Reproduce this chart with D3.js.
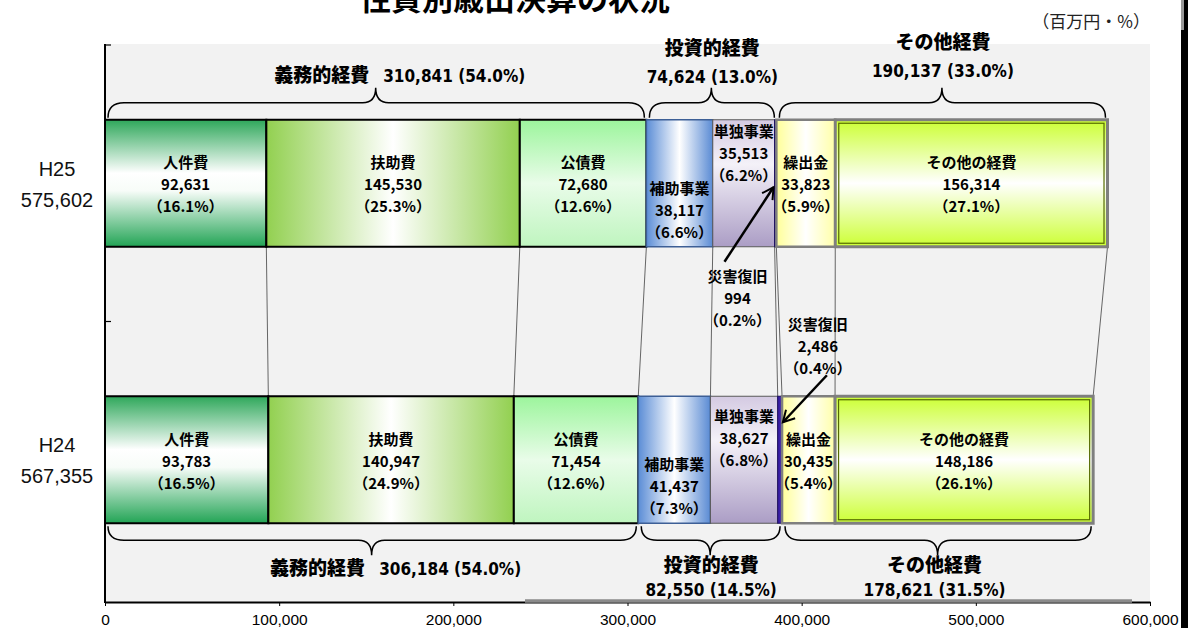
<!DOCTYPE html>
<html><head><meta charset="utf-8">
<script src="https://cdn.jsdelivr.net/npm/d3@7"></script>
<style>body{margin:0;background:#fff;} svg{display:block;}</style>
</head><body><svg id="c" width="1188" height="628"></svg>
<script>
// ---------- data ----------
const categories = ["H25", "H24"];
const totals = [575602, 567355];
const items = ["人件費", "扶助費", "公債費", "補助事業", "単独事業", "災害復旧", "繰出金", "その他の経費"];
const valuesH25 = [92631, 145530, 72680, 38117, 35513, 994, 33823, 156314];
const valuesH24 = [93783, 140947, 71454, 41437, 38627, 2486, 30435, 148186];
const pctH25 = [16.1, 25.3, 12.6, 6.6, 6.2, 0.2, 5.9, 27.1];
const pctH24 = [16.5, 24.9, 12.6, 7.3, 6.8, 0.4, 5.4, 26.1];
const groups = ["義務的経費", "投資的経費", "その他経費"];
const groupItemCounts = [3, 3, 2];
const groupValuesH25 = [310841, 74624, 190137];
const groupPctH25 = [54.0, 13.0, 33.0];
const groupValuesH24 = [306184, 82550, 178621];
const groupPctH24 = [54.0, 14.5, 31.5];
const xTicks = [0, 100000, 200000, 300000, 400000, 500000, 600000];
const titleText = "性質別歳出決算の状況";
const unitText = "（百万円・%）";

// ---------- setup ----------
const svg = d3.select("#c");
const CJK = "'Noto Sans CJK JP','Noto Sans CJK SC',sans-serif";
const SANS = "'Liberation Sans',Arial,sans-serif";
const NARROW = "'DejaVu Sans Condensed','Liberation Sans Narrow','Noto Sans CJK JP',sans-serif";
const fmt = d3.format(",");
const plot = {left: 105, right: 1150, top: 44, bottom: 602};
const x = d3.scaleLinear().domain([0, 600000]).range([plot.left, plot.right]);
const y = d3.scaleBand().domain(categories).range([45, 598]);
const barH = 127;
const rowC = c => y(c) + y.bandwidth() / 2;
const rows = categories.map((c, ri) => {
  const vals = ri === 0 ? valuesH25 : valuesH24;
  const pcts = ri === 0 ? pctH25 : pctH24;
  let cum = 0;
  const segs = vals.map((v, i) => { const s = {i, row: ri, cat: c, v, p: pcts[i], x0: cum, x1: cum + v}; cum += v; return s; });
  return {cat: c, segs, total: totals[ri]};
});

// styles
const segStyles = [
  {dir: "v", stops: [[0, "#2ea75a"], [0.42, "#ffffff"], [0.56, "#f7fcf8"], [1, "#22a455"]], stroke: "#000", sw: 2},
  {dir: "h", stops: [[0, "#92d050"], [0.5, "#ffffff"], [1, "#92d050"]], stroke: "#000", sw: 2},
  {dir: "v", stops: [[0, "#9cf59c"], [0.5, "#e9fce9"], [1, "#bff5bf"]], stroke: "#000", sw: 2},
  {dir: "h", stops: [[0, "#5b8dd6"], [0.5, "#ffffff"], [1, "#5a8bd4"]], stroke: "#3d5f96", sw: 1.5},
  {dir: "v", stops: [[0, "#d4cae2"], [0.35, "#f4f1f8"], [1, "#ab9dc5"]], stroke: "#5a5a5a", sw: 1},
  {solid: "#3a1fa8", stroke: "#1b0c5e", sw: 1},
  {dir: "h", stops: [[0, "#ffff99"], [0.5, "#ffffff"], [1, "#ffffa8"]], stroke: "#7f7f7f", sw: 2.5},
  {dir: "v", stops: [[0, "#ccff33"], [0.5, "#ffffff"], [1, "#ccff33"]], stroke: "#7f7f7f", sw: 3, inner: "#556b00"}
];
const defs = svg.append("defs");
segStyles.forEach((s, i) => {
  if (!s.stops) return;
  const g = defs.append("linearGradient").attr("id", "g" + i)
    .attr("x1", 0).attr("y1", 0).attr("x2", s.dir === "h" ? 1 : 0).attr("y2", s.dir === "h" ? 0 : 1);
  s.stops.forEach(st => g.append("stop").attr("offset", st[0]).attr("stop-color", st[1]));
});
defs.append("marker").attr("id", "arr").attr("viewBox", "0 0 12 12").attr("refX", 10).attr("refY", 6)
  .attr("markerWidth", 6).attr("markerHeight", 6).attr("orient", "auto").attr("markerUnits", "strokeWidth")
  .append("path").attr("d", "M1,1 L10,6 L1,11").attr("fill", "none").attr("stroke", "#000").attr("stroke-width", 1.6);

// ---------- background ----------
svg.append("rect").attr("x", plot.left).attr("y", plot.top).attr("width", plot.right - plot.left)
  .attr("height", plot.bottom - plot.top).attr("fill", "#f2f2f2");

// title & unit
svg.append("text").attr("x", 515).attr("y", 10).attr("text-anchor", "middle")
  .attr("font-family", CJK).attr("font-weight", 700).attr("font-size", 31).text(titleText);
svg.append("text").attr("x", 1150).attr("y", 28).attr("text-anchor", "end")
  .attr("font-family", CJK).attr("font-size", 17).attr("fill", "#222").text(unitText);

// ---------- connecting lines ----------
const topRow = rows[0], botRow = rows[1];
svg.append("g").selectAll("line").data(items.map((d, i) => i)).join("line")
  .attr("x1", i => x(topRow.segs[i].x1)).attr("y1", rowC("H25") + barH / 2)
  .attr("x2", i => x(botRow.segs[i].x1)).attr("y2", rowC("H24") - barH / 2)
  .attr("stroke", "#555").attr("stroke-width", 0.9);

// ---------- bars ----------
const gb = svg.append("g");
rows.forEach(r => {
  const yc = rowC(r.cat);
  r.segs.forEach(s => {
    const st = segStyles[s.i];
    const x0 = x(s.x0), w = x(s.x1) - x(s.x0);
    gb.append("rect").attr("x", x0).attr("y", yc - barH / 2).attr("width", w).attr("height", barH)
      .attr("fill", st.solid ? st.solid : `url(#g${s.i})`)
      .attr("stroke", st.stroke).attr("stroke-width", st.sw);
    if (st.inner) {
      gb.append("rect").attr("x", x0 + 3.5).attr("y", yc - barH / 2 + 3.5).attr("width", w - 7).attr("height", barH - 7)
        .attr("fill", "none").attr("stroke", st.inner).attr("stroke-width", 1.2);
    }
  });
});

// ---------- bar labels ----------
const labelShift = (row, i) => {
  if (i === 3) return 27;
  if (i === 4) return row === 0 ? -30 : -21;
  return row === 0 ? 1.5 : 2;
};
const gl = svg.append("g").attr("font-family", CJK).attr("text-anchor", "middle").attr("fill", "#000");
function block(g, cx, cy, lines, size) {
  const sp = 22;
  const t = g.append("text").attr("x", cx).attr("y", cy - sp + size * 0.36)
    .attr("font-size", size).attr("font-weight", 700);
  lines.forEach((s, k) => {
    t.append("tspan").attr("x", cx).attr("dy", k === 0 ? 0 : sp).text(s);
  });
}
const pctFmt = p => `（${p.toFixed(1)}%）`;
rows.forEach((r, ri) => {
  const yc = rowC(r.cat);
  r.segs.forEach(s => {
    if (s.i === 5) return;
    const cx = (x(s.x0) + x(s.x1)) / 2;
    block(gl, cx, yc + labelShift(ri, s.i), [items[s.i], fmt(s.v), pctFmt(s.p)], 15);
  });
});

// disaster-recovery callouts
rows.forEach((r, ri) => {
  const s = r.segs[5];
  const tx = x((s.x0 + s.x1) / 2);
  const yc = rowC(r.cat);
  if (ri === 0) {
    const lx = tx - 38, ly = yc + barH / 2 + 52;
    block(gl, lx, ly, [items[5], fmt(s.v), pctFmt(s.p)], 15);
    svg.append("line").attr("x1", tx - 51).attr("y1", yc + barH / 2 + 15).attr("x2", tx - 2).attr("y2", yc + 4)
      .attr("stroke", "#000").attr("stroke-width", 2.5).attr("marker-end", "url(#arr)");
  } else {
    const lx = tx + 38, ly = yc - barH / 2 - 50;
    block(gl, lx, ly, [items[5], fmt(s.v), pctFmt(s.p)], 15);
    svg.append("line").attr("x1", tx + 47).attr("y1", yc - barH / 2 - 21).attr("x2", tx + 3).attr("y2", yc - barH / 2 + 26)
      .attr("stroke", "#000").attr("stroke-width", 2.5).attr("marker-end", "url(#arr)");
  }
});

// ---------- braces ----------
function brace(x1, x2, xm, yEnd, yH, yPeak) {
  const r = 16, r2 = 13;
  return `M${x1},${yEnd} Q${x1},${yH} ${x1 + r},${yH} L${xm - r2},${yH} Q${xm},${yH} ${xm},${yPeak} ` +
         `Q${xm},${yH} ${xm + r2},${yH} L${x2 - r},${yH} Q${x2},${yH} ${x2},${yEnd}`;
}
const gBr = svg.append("g").attr("fill", "none").attr("stroke", "#000").attr("stroke-width", 1.5);
const gTx = svg.append("g").attr("text-anchor", "middle").attr("fill", "#000");
rows.forEach((r, ri) => {
  const yc = rowC(r.cat);
  const isTop = ri === 0;
  const gv = isTop ? groupValuesH25 : groupValuesH24;
  const gp = isTop ? groupPctH25 : groupPctH24;
  let idx = 0;
  groups.forEach((gname, gi) => {
    const a = r.segs[idx].x0, b = r.segs[idx + groupItemCounts[gi] - 1].x1;
    idx += groupItemCounts[gi];
    const x1 = x(a) + 3, x2 = x(b) - 2, xm = (x(a) + x(b)) / 2;
    if (isTop) {
      const yb = yc - barH / 2;
      gBr.append("path").attr("d", brace(x1, x2, xm, yb - 2, yb - 17, yb - 32));
    } else {
      const yb = yc + barH / 2;
      gBr.append("path").attr("d", brace(x1, x2, xm, yb + 3, yb + 17, yb + 32));
    }
    const numTxt = `${fmt(gv[gi])} (${gp[gi].toFixed(1)}%)`;
    if (gi === 0) {
      const ty = isTop ? 75 : 568;
      const t = gTx.append("text").attr("x", xm + 24).attr("y", ty + 6.5);
      t.append("tspan").attr("font-family", CJK).attr("font-weight", 900).attr("font-size", 19).text(gname);
      t.append("tspan").attr("font-family", NARROW).attr("font-weight", 700).attr("font-size", 17)
        .attr("dx", 14).text(numTxt);
    } else {
      const ty1 = isTop ? (gi === 1 ? 48 : 42) : 565;
      const ty2 = isTop ? (gi === 1 ? 77 : 71) : 590;
      gTx.append("text").attr("x", xm + (gi === 2 && !isTop ? -3 : 1)).attr("y", ty1 + 7)
        .attr("font-family", CJK).attr("font-weight", 900).attr("font-size", 19).text(gname);
      gTx.append("text").attr("x", xm + (gi === 2 && !isTop ? -3 : 1)).attr("y", ty2 + 6)
        .attr("font-family", NARROW).attr("font-weight", 700).attr("font-size", 17).text(numTxt);
    }
  });
});

// ---------- axes ----------
const xAxis = svg.append("g").attr("transform", `translate(0,${plot.bottom})`)
  .call(d3.axisBottom(x).tickValues(xTicks).tickFormat(fmt).tickSize(4).tickPadding(8).tickSizeOuter(0));
xAxis.select(".domain").attr("stroke", "#000").attr("stroke-width", 2);
xAxis.selectAll(".tick line").attr("stroke", "#000").attr("stroke-width", 1);
xAxis.selectAll("text").attr("font-family", SANS).attr("font-size", 15.5).attr("fill", "#000");
// overlay artifact line near axis
svg.append("line").attr("x1", 525).attr("x2", 1132).attr("y1", plot.bottom - 1).attr("y2", plot.bottom - 1)
  .attr("stroke", "#8a8a8a").attr("stroke-width", 3.5);

// y axis
svg.append("line").attr("x1", plot.left).attr("x2", plot.left).attr("y1", plot.top).attr("y2", plot.bottom + 1)
  .attr("stroke", "#000").attr("stroke-width", 2);
svg.append("g").selectAll("line").data(categories).join("line")
  .attr("x1", plot.left).attr("x2", plot.left + 6)
  .attr("y1", (c, i) => i === 0 ? plot.top + 1 : y(c)).attr("y2", (c, i) => i === 0 ? plot.top + 1 : y(c))
  .attr("stroke", "#000").attr("stroke-width", 1.2);
const gy = svg.append("g").attr("font-family", SANS).attr("font-size", 20).attr("text-anchor", "middle").attr("fill", "#111");
categories.forEach((c, i) => {
  const yc = rowC(c) + 1;
  gy.append("text").attr("x", 57).attr("y", yc - 15.5 + 7).text(c);
  gy.append("text").attr("x", 57).attr("y", yc + 15.5 + 7).text(fmt(totals[i]));
});

// right frame edge
svg.append("rect").attr("x", 1181).attr("y", 0).attr("width", 7).attr("height", 628).attr("fill", "#000");
svg.append("rect").attr("x", 1181).attr("y", 0).attr("width", 3).attr("height", 30).attr("fill", "#9a9a9a");
</script>
</body></html>
